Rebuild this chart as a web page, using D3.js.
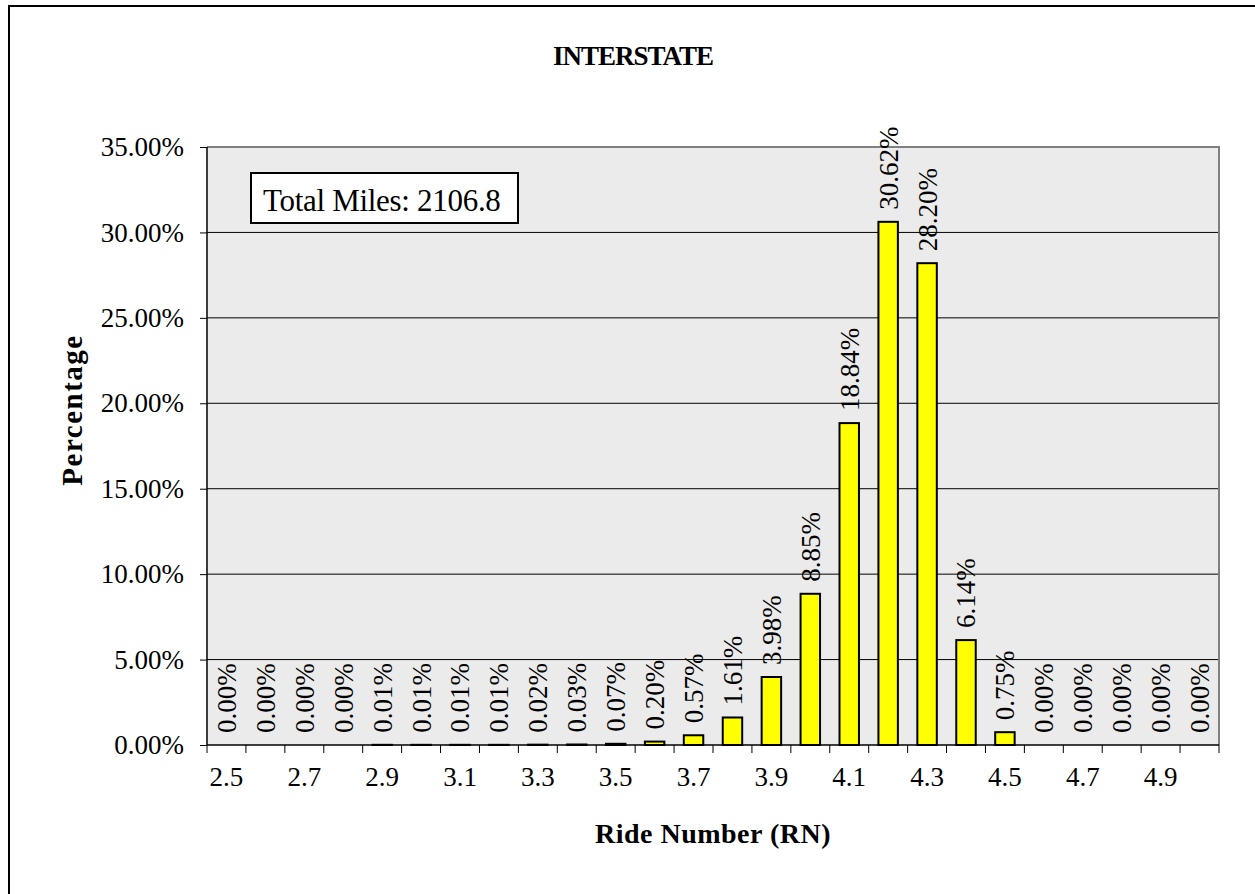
<!DOCTYPE html>
<html>
<head>
<meta charset="utf-8">
<script src="https://cdn.jsdelivr.net/npm/d3@7"></script>
<style>
  body { margin: 0; background: #fff; }
  text { font-family: "Liberation Serif", "Times New Roman", serif; }
</style>
</head>
<body>
<div id="chart"></div>
<script>
// chart data
var categories = ["2.5","2.6","2.7","2.8","2.9","3.0","3.1","3.2","3.3","3.4","3.5","3.6","3.7",
                  "3.8","3.9","4.0","4.1","4.2","4.3","4.4","4.5","4.6","4.7","4.8","4.9","5.0"];
var percents = [0.00, 0.00, 0.00, 0.00, 0.01, 0.01, 0.01, 0.01, 0.02, 0.03, 0.07, 0.20, 0.57,
                1.61, 3.98, 8.85, 18.84, 30.62, 28.20, 6.14, 0.75, 0.00, 0.00, 0.00, 0.00, 0.00];
var yTicks = [0, 5, 10, 15, 20, 25, 30, 35];
var xTickLabels = ["2.5","2.7","2.9","3.1","3.3","3.5","3.7","3.9","4.1","4.3","4.5","4.7","4.9"];
var chartTitle = "INTERSTATE";
var totalMiles = "Total Miles: 2106.8";

var svgWidth = 1255;
var svgHeight = 894;
var margin = { top: 147, right: 36, bottom: 149, left: 207 };
var width = svgWidth - margin.left - margin.right;
var height = svgHeight - margin.top - margin.bottom;

var svg = d3.select("#chart")
  .append("svg")
  .attr("width", svgWidth)
  .attr("height", svgHeight);

// outer chart border
svg.append("rect")
  .attr("x", 9).attr("y", 6)
  .attr("width", 1260).attr("height", 900)
  .attr("fill", "none")
  .attr("stroke", "#000")
  .attr("stroke-width", 2);

var chart = svg.append("g")
  .attr("transform", "translate(" + margin.left + "," + margin.top + ")");

var x = d3.scaleBand().domain(categories).range([0, width]).paddingInner(0.5).paddingOuter(0.25);
var xCat = d3.scaleBand().domain(categories).range([0, width]);
var y = d3.scaleLinear().domain([0, 35]).range([height, 0]);

// plot area
chart.append("rect")
  .attr("width", width).attr("height", height)
  .attr("fill", "#ebebeb");

// gridlines
chart.selectAll(".grid")
  .data(yTicks.slice(1, -1))
  .enter().append("line")
  .attr("x1", 0).attr("x2", width)
  .attr("y1", function(d) { return y(d); })
  .attr("y2", function(d) { return y(d); })
  .attr("stroke", "#000")
  .attr("stroke-width", 1);

// plot border top / right (grey)
chart.append("path")
  .attr("d", "M0,0H" + width + "V" + height)
  .attr("fill", "none")
  .attr("stroke", "#808080")
  .attr("stroke-width", 2);

// bars
chart.selectAll(".bar")
  .data(percents)
  .enter().append("rect")
  .attr("x", function(d, i) { return x(categories[i]); })
  .attr("width", x.bandwidth())
  .attr("y", function(d) { return y(d); })
  .attr("height", function(d) { return height - y(d); })
  .attr("fill", "#ffff00")
  .attr("stroke", "#000")
  .attr("stroke-width", 2);

// value labels
chart.selectAll(".lbl")
  .data(percents)
  .enter().append("text")
  .attr("transform", function(d, i) {
    return "translate(" + (xCat(categories[i]) + xCat.bandwidth() / 2) + "," + (y(d) - 12) + ") rotate(-90)";
  })
  .attr("dy", "0.35em")
  .style("font-size", "27px")
  .attr("fill", "#000")
  .text(function(d) { return d.toFixed(2) + "%"; });

// y axis
var leftAxis = d3.axisLeft(y)
  .tickValues(yTicks)
  .tickSize(7)
  .tickPadding(16)
  .tickFormat(function(d) { return d.toFixed(2) + "%"; });

var yAxis = chart.append("g").call(leftAxis);
yAxis.select(".domain").attr("stroke", "#000").attr("stroke-width", 1.5).attr("d", "M0,0V" + height);
yAxis.selectAll("text").style("font-size", "27px").style("font-family", "Liberation Serif").attr("fill", "#000");

// x axis: ticks between categories, labels every other category
var bottomAxis = d3.axisBottom(xCat)
  .tickValues(xTickLabels)
  .tickSize(0)
  .tickPadding(22);
var xAxis = chart.append("g")
  .attr("transform", "translate(0," + height + ")")
  .call(bottomAxis);
xAxis.select(".domain").attr("stroke", "#000").attr("stroke-width", 1.5).attr("d", "M0,0H" + width);
xAxis.selectAll("text").style("font-size", "27px").style("font-family", "Liberation Serif").attr("fill", "#000");

xAxis.selectAll(".between")
  .data(categories.concat(["end"]))
  .enter().append("line")
  .attr("x1", function(d, i) { return i * xCat.bandwidth(); })
  .attr("x2", function(d, i) { return i * xCat.bandwidth(); })
  .attr("y1", 0).attr("y2", 8)
  .attr("stroke", "#000")
  .attr("stroke-width", 1);

// total miles box
var box = chart.append("g").attr("transform", "translate(44,26)");
box.append("rect")
  .attr("width", 267).attr("height", 50)
  .attr("fill", "#fff")
  .attr("stroke", "#000")
  .attr("stroke-width", 2);
box.append("text")
  .attr("x", 12).attr("y", 38)
  .style("font-size", "31px")
  .style("letter-spacing", "-0.3px")
  .text(totalMiles);

// title
svg.append("text")
  .attr("x", 633).attr("y", 65)
  .style("text-anchor", "middle")
  .style("font-size", "27px")
  .style("font-weight", "bold")
  .style("letter-spacing", "-1px")
  .text(chartTitle);

// axis titles
svg.append("text")
  .attr("x", margin.left + width / 2).attr("y", 843)
  .style("text-anchor", "middle")
  .style("font-size", "28px")
  .style("font-weight", "bold")
  .style("letter-spacing", "0.5px")
  .text("Ride Number (RN)");

svg.append("text")
  .attr("transform", "translate(82,410) rotate(-90)")
  .style("text-anchor", "middle")
  .style("font-size", "29px")
  .style("font-weight", "bold")
  .style("letter-spacing", "1.5px")
  .text("Percentage");
</script>
</body>
</html>
